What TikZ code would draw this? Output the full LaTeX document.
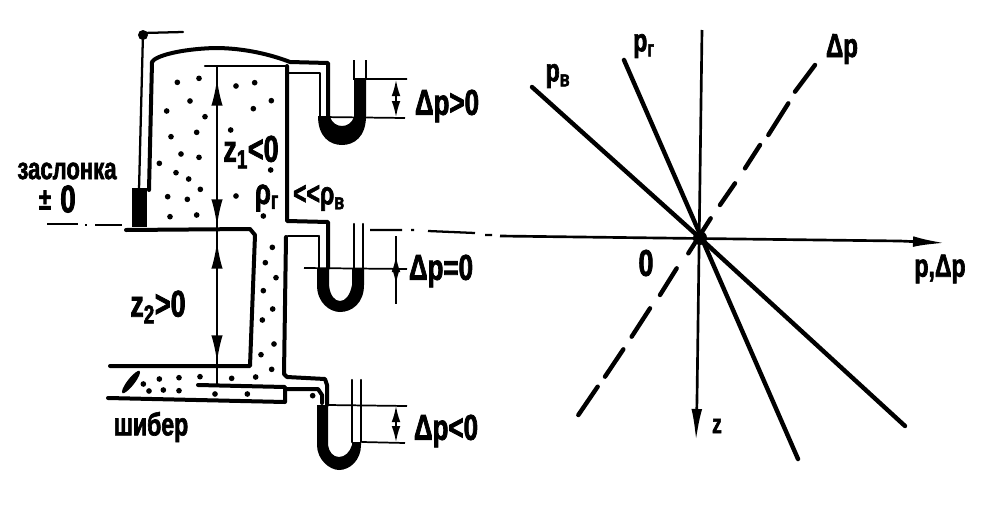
\documentclass[tikz,border=0pt]{standalone}
\usepackage{fontspec}
\setmainfont{Liberation Sans}[FakeStretch=0.72,BoldFeatures={FakeBold=2}]
\usetikzlibrary{arrows.meta}
\tikzset{
  wall/.style={line width=3pt,line cap=round,line join=round},
  thin wall/.style={line width=1.7pt,line cap=round,line join=round},
  hair/.style={line width=1.3pt},
  ray/.style={line width=3.3pt,line cap=round},
  dash seg/.style={line width=3.3pt,line cap=round},
  head/.style={line width=1.5pt,-{Latex[length=20pt,width=8.5pt]}},
  small head/.style={line width=1.2pt,-{Latex[length=12pt,width=6.5pt]}},
  lab/.style={font=\bfseries\fontsize{#1}{#1}\selectfont,inner sep=0pt},
  lab/.default=22pt
}
\begin{document}
\begin{tikzpicture}[x=0.75pt,y=-0.75pt]
\useasboundingbox (0,0) rectangle (1000,504);
\fill[white] (0,0) rectangle (1000,504);
% ---- dots
\begin{scope}[x=0.25pt,y=-0.25pt]
\foreach \a/\b in {532/247,597/235,570/303,500/333,615/350,590/397,513/410,543/462,597/472,478/490,528/518,566/537,601/568,503/590,562/598,510/650,590/645,708/258,764/248,814/302,760/326,692/390,812/510,708/588,790/648,817/742,
796/788,828/833,790/872,818/927,787/960,822/1032,783/1064,815/1108,430/1152,478/1137,537/1133,600/1130,447/1173,490/1170,537/1172,695/1135,767/1131,645/1182,742/1182,938/1187}
  \fill (\a,\b) circle (8.5);
\end{scope}
% ---- rod and tank
\draw[thin wall] (183,32) -- (143,33) -- (139,190);
\fill (143,35) circle (5);
\draw[wall] (149,190) -- (152,62) .. controls (155,56) and (180,49) .. (215,48) .. controls (245,48) and (272,55) .. (290,62) -- (328,63) -- (328,116);
\draw[thin wall] (205,66) -- (287,66);
\draw[wall] (287,66) -- (287,221) -- (328,222) -- (328,268);
\draw[thin wall] (288,73) -- (320,73) -- (320,116);
\fill (132,188) rectangle (147,227);
\draw[wall] (126,230) -- (250,229) -- (255,235) -- (250,366) -- (110,366);
\draw[wall] (286,237) -- (284,374) -- (287,377) -- (325,379) -- (327,385) -- (327,405);
\draw[thin wall] (288,236) -- (318,236);
\draw[wall] (287,389) -- (318,389) -- (322,395) -- (322,403);
\draw[wall] (198,385) -- (285,387) -- (285,402) -- (108,398);
\fill[rotate around={52:(131,382)}] (131,382) ellipse (14 and 3.5);
% ---- z dimension
\draw[line width=2pt] (217,67) -- (217,385);
\draw[head] (217,105) -- (217,79);
\draw[head] (217,200) -- (217,226);
\draw[head] (217,268) -- (217,242);
\draw[head] (217,337) -- (217,362);
% ---- U tube 1
\fill (318,116) .. controls (318,137) and (330,145) .. (342,145) .. controls (354,145) and (366,137) .. (366,116) -- (366,78) -- (354,78) -- (354,117) .. controls (350,129) and (334,129) .. (330,117) -- (330,116) -- cycle;
\draw[hair,line width=1.7pt] (354,60) -- (354,80) (366,60) -- (366,80);
\draw[hair] (366,79) -- (407,79) (322,117) -- (405,118);
\draw[small head] (396,100) -- (396,80);
\draw[small head] (396,97) -- (396,117);
% ---- U tube 2
\fill (317,268) -- (317,285) .. controls (317,303) and (330,312) .. (340,312) .. controls (352,312) and (364,303) .. (364,285) -- (364,268) -- (352,268) -- (352,285) .. controls (350,296) and (345,301) .. (340,301) .. controls (335,301) and (330,296) .. (329,285) -- (329,268) -- cycle;
\draw[thin wall] (319,236) -- (319,268) (354,224) -- (354,268) (363,224) -- (363,268);
\draw[hair] (304,268) -- (407,269);
\draw[line width=1.2pt] (396,236) -- (396,304);
\draw[small head] (396,285) -- (396,256);
\draw[small head] (396,255) -- (396,284);
% ---- U tube 3
\fill (317,405) -- (317,445) .. controls (317,460) and (330,470) .. (339,470) .. controls (350,470) and (361,460) .. (361,445) -- (361,442) -- (352,442) -- (352,445) .. controls (350,452) and (345,457) .. (339,457) .. controls (333,457) and (329,452) .. (328,445) -- (328,405) -- cycle;
\draw[thin wall] (352,380) -- (352,442) (361,380) -- (361,442);
\draw[hair] (327,405) -- (407,406) (362,442) -- (405,443);
\draw[small head] (396,426) -- (396,406);
\draw[small head] (396,421) -- (396,442);
% ---- datum line
\draw[line width=1.7pt] (47,224) -- (78,224) (85,225) -- (87,225) (95,225) -- (122,225);
\draw[line width=1.7pt] (370,230) -- (402,230) (411,230) -- (414,230) (428,231) -- (475,233) (485,235) -- (492,235);
% ---- axes and lines
\draw[line width=2pt] (500,236) -- (900,241);
\draw[line width=2pt,-{Latex[length=24pt,width=8pt]}] (900,241) -- (945,243);
\draw[line width=2pt] (702,30) -- (697,400);
\draw[line width=2pt,-{Latex[length=24pt,width=8pt]}] (697,400) -- (696,441);
\draw[ray] (532,87) -- (700,238);
\draw[ray] (700,238) -- (905,426);
\draw[ray] (624,60) -- (798,459);
\fill (700,238) circle (7);
\foreach \xa/\ya/\xb/\yb in {945/165/885/245,865/280/805/375,780/405/735/475,705/520/660/585,632/625/565/730,530/775/480/855,450/895/395/980,370/1018/315/1100,293/1130/235/1215}
  \draw[dash seg] ({500+\xa/3},{10+\ya/3}) -- ({500+\xb/3},{10+\yb/3});
% ---- labels
\node[lab=23pt] (zaslonka) at (67,171) {заслонка};
\node[lab=23pt] (pm) at (45,200) {±};
\node[lab=29pt] (nol) at (68,199) {0};
\node[lab=24pt] (shiber) at (151,427) {шибер};
\node[lab=28pt] (zone) at (251,152) {z\textsubscript{1}<0};
\node[lab=28pt] (ztwo) at (158,307) {z\textsubscript{2}>0};
\node[lab=27pt] (rhog) at (267,198) {ρ\textsubscript{г}};
\node[lab=24pt] (rhoratio) at (319,198) {<{}<ρ\textsubscript{в}};
\node[lab=27pt] (dpa) at (447,106) {Δp>0};
\node[lab=27pt] (dpb) at (441,271) {Δp=0};
\node[lab=27pt] (dpc) at (446,431) {Δp<0};
\node[lab=24pt] (pv) at (558,76) {p\textsubscript{в}};
\node[lab=24pt] (pg) at (644,46) {p\textsubscript{г}};
\node[lab=25pt] (dptop) at (842,49) {Δp};
\node[lab=28pt] (zero) at (646,263) {0};
\node[lab=24pt] (pdp) at (940,269) {p,Δp};
\node[lab=20pt] (zz) at (717,426) {z};
\end{tikzpicture}
\end{document}
